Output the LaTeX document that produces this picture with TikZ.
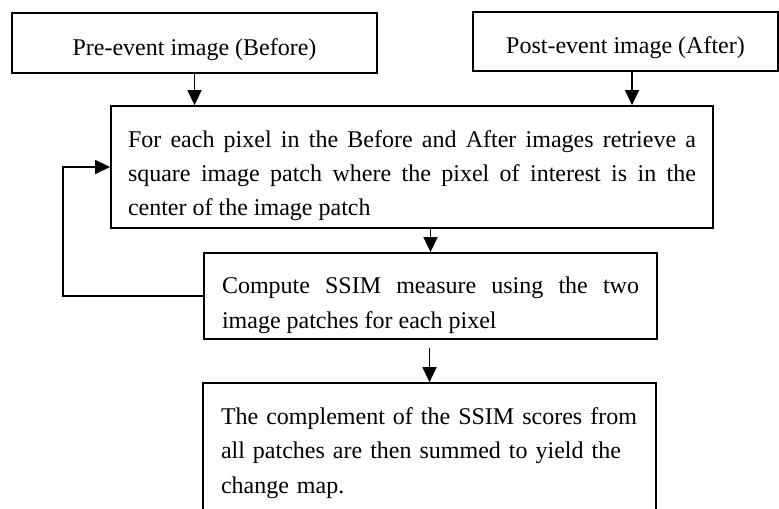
\documentclass[tikz,border=0pt]{standalone}
\usepackage{fontspec}
\setmainfont{Liberation Serif}
\usetikzlibrary{arrows.meta,positioning}

\begin{document}
\begin{tikzpicture}[node distance=64pt, >={Triangle[length=7.5pt,width=7pt]}]
    \tikzstyle{stage} = [rectangle, draw=black, line width=0.9pt, inner sep=0pt, font=\fontsize{12}{17.2}\selectfont]
    \tikzstyle{para} = [stage, align=justify, text width=208.5pt, minimum width=226.5pt]
    \tikzstyle{link} = [->, line width=0.7pt]
    \useasboundingbox (0,0) rectangle (389.5pt,254pt);

    \node (patch) [stage, align=justify, text width=284pt, minimum width=301pt, minimum height=61pt] at (206pt,170.5pt)
        {\rule{0pt}{17pt}For each pixel in the Before and After images retrieve a\linebreak
         square image patch where the pixel of interest is in the\linebreak
         center of the image patch};
    \node (before) [stage, minimum width=182.5pt, minimum height=30pt, above of=patch, node distance=62pt, xshift=-108.75pt]
        {\rule{0pt}{15pt}Pre-event image (Before)};
    \node (after) [stage, minimum width=152.5pt, minimum height=29.5pt, above of=patch, node distance=62.75pt, xshift=106.75pt]
        {\rule{0pt}{15pt}Post-event image (After)};
    \node (ssim) [para, minimum height=43pt, below of=patch, node distance=64.5pt, xshift=9.25pt]
        {\rule{0pt}{17.5pt}Compute SSIM measure using the two\linebreak
         image patches for each pixel};
    \node (change) [para, align=left, minimum height=70pt, below of=ssim, node distance=78.5pt, xshift=-0.5pt]
        {The complement of the SSIM scores from\\
         all patches are then summed to yield the\\
         change map.};

    \coordinate (loop) at (31.5pt,106pt);

    \draw[link]             (before) -- (before |- patch.north);
    \draw[link]             ([xshift=3.25pt]after.south) -- ([xshift=3.25pt]after.south |- patch.north);
    \draw[link]             (ssim.north |- patch.south) -- (ssim.north);
    \draw[link, shorten <=4pt] (change.north |- ssim.south) -- (change.north);
    \draw[link]             (ssim.west) -- (loop) |- (patch.west);
\end{tikzpicture}
\end{document}
